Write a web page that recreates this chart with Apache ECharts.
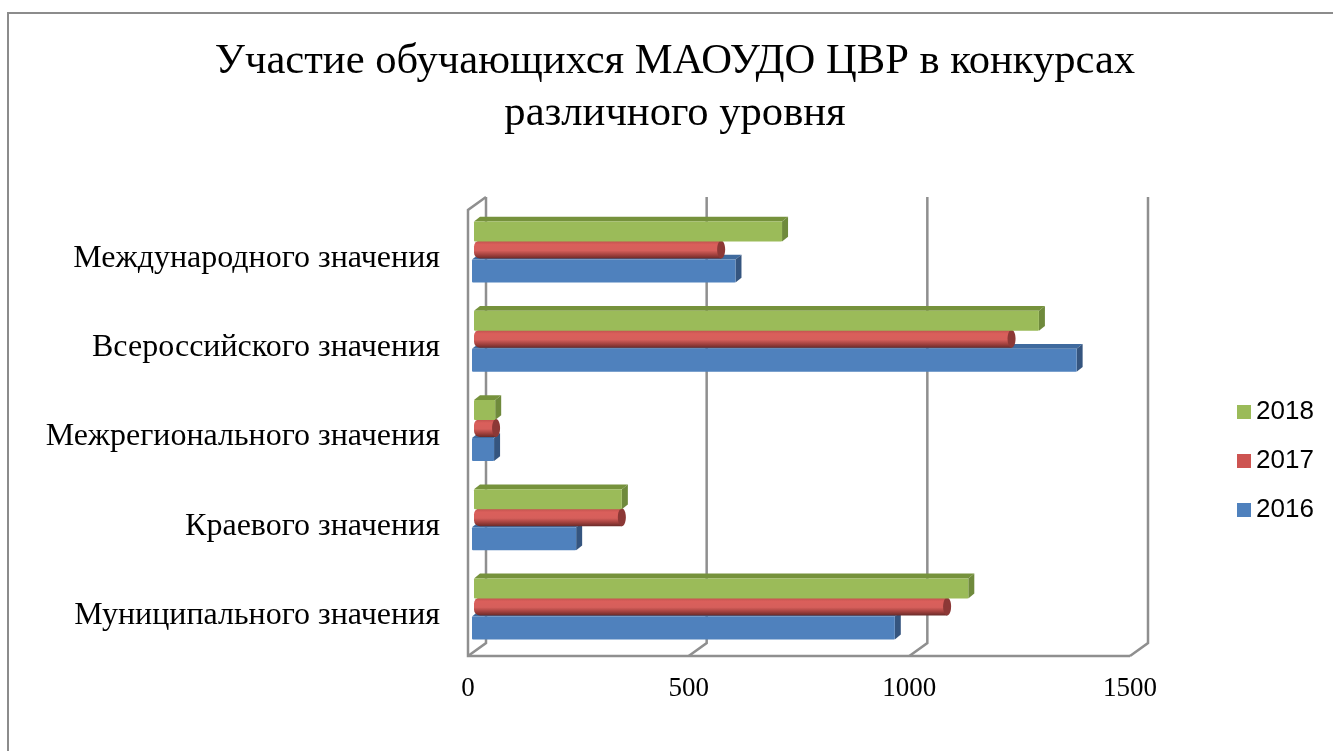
<!DOCTYPE html>
<html><head><meta charset="utf-8">
<style>html,body{margin:0;padding:0;background:#fff}#c{width:1333px;height:751px}</style>
<script src="https://cdn.jsdelivr.net/npm/echarts@6/dist/echarts.min.js"></script>
</head><body><div id="c"></div>
<script>
const categories = ['Муниципального значения','Краевого значения','Межрегионального значения','Всероссийского значения','Международного значения'];
const values2016 = [958, 236, 50, 1370, 597];
const values2017 = [1072, 335, 50, 1218, 560];
const values2018 = [1120, 335, 48, 1280, 698];
const ticks = [0, 500, 1000, 1500];
const titleText = 'Участие обучающихся МАОУДО ЦВР в конкурсах\nразличного уровня';

const WALL = '#8f8f8f', DX = 18, DY = -13;
const G = echarts.graphic;
function grad(stops){return new G.LinearGradient(0,0,0,1,stops.map((c,i)=>({offset:c[0],color:c[1]})));}

function wall(params, api){
  const v = api.value(0);
  const p = api.coord([v, 0]);
  const x = p[0], yb = params.coordSys.y + params.coordSys.height, yt = params.coordSys.y;
  const st = {stroke:WALL, lineWidth:2.5, fill:'none'};
  const kids = [{type:'polyline',shape:{points:[[x,yb],[x+DX,yb+DY],[x+DX,yt+DY]]},style:st}];
  if (v === 0) {
    kids.push({type:'polyline',shape:{points:[[x+DX,yt+DY],[x,yt],[x,yb],[x+params.coordSys.width,yb]]},style:st});
  }
  return {type:'group',children:kids};
}
function box(fill, top, side, x0off, y0, h, d){
  return function(params, api){
    const p0 = api.coord([0, api.value(1)]), p = api.coord([api.value(0), api.value(1)]);
    const xa = p0[0]+x0off, xb = p[0]+x0off, y = p[1]+y0;
    return {type:'group',children:[
      {type:'polygon',shape:{points:[[xa,y],[xa+d,y-d*0.8],[xb+d,y-d*0.8],[xb,y]]},style:{fill:top}},
      {type:'polygon',shape:{points:[[xb,y],[xb+d,y-d*0.8],[xb+d,y+h-d*0.8],[xb,y+h]]},style:{fill:side}},
      {type:'rect',shape:{x:xa,y:y,width:xb-xa,height:h,r:1},style:{fill:fill}}
    ]};
  };
}
function cyl(params, api){
  const p0 = api.coord([0, api.value(1)]), p = api.coord([api.value(0), api.value(1)]);
  const xa = p0[0]+6, xb = p[0]+6, y = p[1]-14, h = 18;
  const g = grad([[0,'#bd504c'],[0.22,'#da5f5b'],[0.55,'#d65f5b'],[0.8,'#a0403d'],[1,'#6a2b29']]);
  return {type:'group',children:[
    {type:'rect',shape:{x:xa,y:y,width:xb-xa,height:h,r:[6,0,0,6]},style:{fill:g}},
    {type:'ellipse',shape:{cx:xb,cy:y+h/2,rx:4,ry:h/2},style:{fill:'#8c3836'}}
  ]};
}
const pairs = a => a.map((v,i)=>[v,i]);

const chart = echarts.init(document.getElementById('c'),null,{renderer:'canvas'});
chart.setOption({
  animation:false,
  backgroundColor:'#fff',
  title:{text:titleText,left:670,top:31,textAlign:'center',
    textStyle:{fontFamily:'Liberation Serif',fontSize:42.6,fontWeight:'normal',color:'#000',lineHeight:52}},
  legend:{orient:'vertical',left:1232,top:394,itemWidth:14,itemHeight:14,itemGap:23,icon:'rect',
    data:['2018','2017','2016'],
    textStyle:{fontFamily:'Liberation Sans',fontSize:26,color:'#000'}},
  grid:{left:468,top:210,width:662,height:446,containLabel:false},
  xAxis:{type:'value',min:0,max:1500,interval:500,
    axisLine:{show:false},axisTick:{show:false},splitLine:{show:false},
    axisLabel:{margin:19,fontFamily:'Liberation Serif',fontSize:27,color:'#000',formatter:v=>String(v)}},
  yAxis:{type:'category',data:categories,
    axisLine:{show:false},axisTick:{show:false},splitLine:{show:false},
    axisLabel:{margin:28,fontFamily:'Liberation Serif',fontSize:32,color:'#000',verticalAlign:'top',lineHeight:8}},
  graphic:[{type:'polyline',silent:true,shape:{points:[[8,751],[8,13],[1333,13]]},
    style:{stroke:'#8c8c8c',lineWidth:2,fill:'none'},z:-1}],
  series:[
    {type:'custom',name:'wall',data:ticks.map(t=>[t]),encode:{x:0},renderItem:wall,clip:false,silent:true,z:1},
    {type:'custom',name:'2016',data:pairs(values2016),encode:{x:0,y:1},renderItem:box('#4f81bd','#3f6a9e','#35557f',4,5,23,6),clip:false,itemStyle:{color:'#4f81bd'},z:2},
    {type:'custom',name:'2017',data:pairs(values2017),encode:{x:0,y:1},renderItem:cyl,clip:false,itemStyle:{color:'#cd5451'},z:3},
    {type:'custom',name:'2018',data:pairs(values2018),encode:{x:0,y:1},renderItem:box('#9bbb59','#76923c','#6f8a3c',6,-33,20,6),clip:false,itemStyle:{color:'#9bbb59'},z:4}
  ]
});
</script></body></html>
